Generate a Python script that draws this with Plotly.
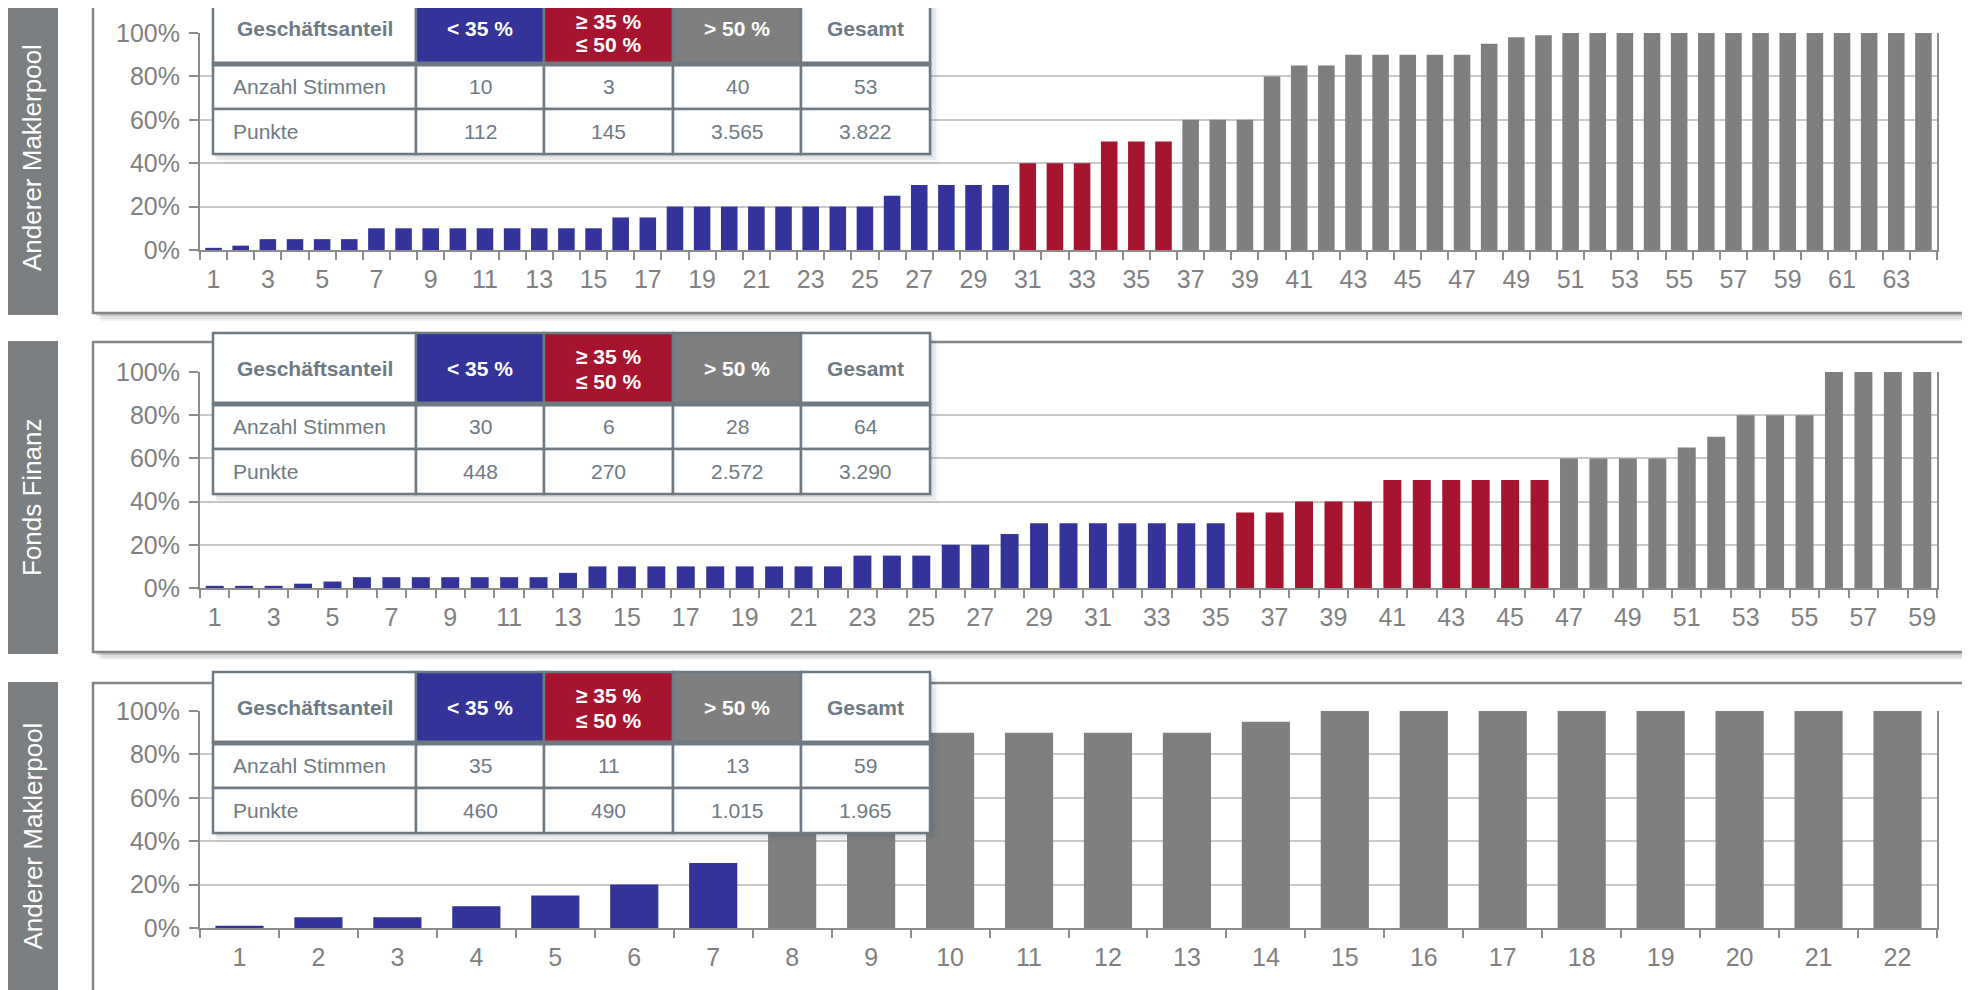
import plotly.graph_objects as go

# ── Data ───────────────────────────────────────────────────────────────────
PANEL_LABELS = ["Anderer Maklerpool", "Fonds Finanz", "Anderer Maklerpool"]

# Geschäftsanteil per vote, in %
SHARE_1 = [1, 2, 5, 5, 5, 5, 10, 10, 10, 10, 10, 10, 10, 10, 10, 15, 15,
           20, 20, 20, 20, 20, 20, 20, 20, 25, 30, 30, 30, 30, 40, 40, 40,
           50, 50, 50, 60, 60, 60, 80, 85, 85, 90, 90, 90, 90, 90, 95, 98,
           99, 100, 100, 100, 100, 100, 100, 100, 100, 100, 100, 100, 100,
           100, 100]
SHARE_2 = [1, 1, 1, 2, 3, 5, 5, 5, 5, 5, 5, 5, 7, 10, 10, 10, 10, 10, 10,
           10, 10, 10, 15, 15, 15, 20, 20, 25, 30, 30, 30, 30, 30, 30, 30,
           35, 35, 40, 40, 40, 50, 50, 50, 50, 50, 50, 60, 60, 60, 60, 65,
           70, 80, 80, 80, 100, 100, 100, 100]
SHARE_3 = [1, 5, 5, 10, 15, 20, 30, 60, 80, 90, 90, 90, 90, 95, 100, 100,
           100, 100, 100, 100, 100, 100]

Y_TICKS = [0, 20, 40, 60, 80, 100]
Y_TICKTEXT = ["0%", "20%", "40%", "60%", "80%", "100%"]

TABLE_HEAD = ["Geschäftsanteil", "&lt; 35 %", "≥ 35 %<br>≤ 50 %", "&gt; 50 %", "Gesamt"]
ROW_NAMES = ["Anzahl Stimmen", "Punkte"]
STIMMEN_1 = ["10", "3", "40", "53"]
PUNKTE_1 = ["112", "145", "3.565", "3.822"]
STIMMEN_2 = ["30", "6", "28", "64"]
PUNKTE_2 = ["448", "270", "2.572", "3.290"]
STIMMEN_3 = ["35", "11", "13", "59"]
PUNKTE_3 = ["460", "490", "1.015", "1.965"]

# ── Style ──────────────────────────────────────────────────────────────────
W, H = 1970, 990
OFF = 8          # page body margin
FONT = "Liberation Sans, Arial, sans-serif"
BLUE = "#333399"
RED = "#A6142F"
GRAY = "#7F7F7F"
SLATE = "#6E7A83"
TICK_COL = "#808080"
AXIS_COL = "#8C8C8C"
GRID_COL = "#C8C8C8"
HEAD_FILL = ["white", BLUE, RED, GRAY, "white"]
HEAD_FONT = [SLATE, "white", "white", "white", SLATE]

FRAME_TOP = [3, 342, 683]
FRAME_BOTTOM = [313, 652, 1010]
PLOT_TOP = [33, 372, 711]
PLOT_BOTTOM = [250, 588, 928]
TABLE_TOP = [-7, 333, 672]
PLOT_LEFT, PLOT_RIGHT = 200, 1937
COL_EDGES = [213, 416, 544, 673, 801, 930]
HEAD_H, ROW_H = 71, 45
LINE_GAP = 25    # line spacing of two-line header cell
TEXT_MIN_Y = OFF + 14   # keep header text inside the page


def px(x):
    return (x - OFF) / W


def py(y):
    return 1 - (y - OFF) / H


def bar_color(v):
    if v < 35:
        return BLUE
    return RED if v <= 50 else GRAY


panels = [
    (SHARE_1, STIMMEN_1, PUNKTE_1, 2),
    (SHARE_2, STIMMEN_2, PUNKTE_2, 2),
    (SHARE_3, STIMMEN_3, PUNKTE_3, 1),
]

fig = go.Figure()
shapes, annotations = [], []
layout_axes = {}

for i, (shares, stimmen, punkte, step) in enumerate(panels):
    n = len(shares)
    cats = list(range(1, n + 1))
    xa = "x" if i == 0 else f"x{i + 1}"
    ya = "y" if i == 0 else f"y{i + 1}"

    fig.add_trace(go.Bar(
        x=cats, y=shares, xaxis=xa, yaxis=ya,
        marker=dict(color=[bar_color(v) for v in shares], line=dict(width=0)),
        showlegend=False, hoverinfo="skip",
    ))

    layout_axes["xaxis" if i == 0 else f"xaxis{i + 1}"] = dict(
        domain=[px(PLOT_LEFT), px(PLOT_RIGHT)], anchor=ya, automargin=False,
        range=[0.5, n + 0.5], tickvals=cats[::step], ticks="",
        ticklabelstandoff=6,
        tickfont=dict(family=FONT, size=25, color=TICK_COL),
        showgrid=False, zeroline=False,
        showline=True, linecolor=AXIS_COL, linewidth=2,
        minor=dict(ticks="outside", ticklen=8, tickwidth=2, tickcolor=AXIS_COL,
                   tick0=0.5, dtick=1, showgrid=False),
    )
    layout_axes["yaxis" if i == 0 else f"yaxis{i + 1}"] = dict(
        domain=[py(PLOT_BOTTOM[i]), py(PLOT_TOP[i])], anchor=xa, automargin=False,
        range=[0, 100], tickvals=Y_TICKS, ticktext=Y_TICKTEXT,
        ticks="outside", ticklen=9, tickwidth=2, tickcolor=AXIS_COL,
        ticklabelstandoff=4,
        tickfont=dict(family=FONT, size=25, color=TICK_COL),
        showgrid=True, gridcolor=GRID_COL, gridwidth=2, zeroline=False,
        showline=True, linecolor=AXIS_COL, linewidth=2, mirror=True,
    )

    # frame + shadow
    for off, op in [(8, 0.05), (6, 0.08), (3, 0.12)]:
        shapes.append(dict(type="rect", xref="paper", yref="paper", layer="below",
                           x0=px(93 + off), x1=px(1967 + off),
                           y0=py(FRAME_BOTTOM[i] + off), y1=py(FRAME_TOP[i] + off),
                           line=dict(width=0), fillcolor=f"rgba(0,0,0,{op})"))
    shapes.append(dict(type="rect", xref="paper", yref="paper", layer="below",
                       x0=px(93), x1=px(1967), y0=py(FRAME_BOTTOM[i]), y1=py(FRAME_TOP[i]),
                       line=dict(color="#858585", width=2.5), fillcolor="white"))

    # side label box
    shapes.append(dict(type="rect", xref="paper", yref="paper", layer="below",
                       x0=px(6), x1=px(58), y0=py(FRAME_BOTTOM[i] + 2), y1=py(FRAME_TOP[i] - 1),
                       line=dict(width=0), fillcolor="#7B7F81"))
    mid = (FRAME_TOP[i] + min(FRAME_BOTTOM[i], H)) / 2
    annotations.append(dict(xref="paper", yref="paper", x=px(32), y=py(mid),
                            xanchor="center", yanchor="middle",
                            text=PANEL_LABELS[i], textangle=-90, showarrow=False,
                            font=dict(family=FONT, size=26, color="white")))

    # table overlay
    t0 = TABLE_TOP[i]
    row_edges = [t0, t0 + HEAD_H, t0 + HEAD_H + ROW_H, t0 + HEAD_H + 2 * ROW_H]
    for off, op in [(9, 0.04), (6, 0.07), (3, 0.10)]:
        shapes.append(dict(type="rect", xref="paper", yref="paper", layer="above",
                           x0=px(COL_EDGES[0] + off / 2), x1=px(COL_EDGES[-1] + off),
                           y0=py(row_edges[-1] + off), y1=py(row_edges[0] + off),
                           line=dict(width=0), fillcolor=f"rgba(60,70,80,{op})"))
    rows = [TABLE_HEAD, [ROW_NAMES[0]] + stimmen, [ROW_NAMES[1]] + punkte]
    for r, row in enumerate(rows):
        for c, txt in enumerate(row):
            x0, x1 = COL_EDGES[c], COL_EDGES[c + 1]
            y0, y1 = row_edges[r], row_edges[r + 1]
            shapes.append(dict(type="rect", xref="paper", yref="paper", layer="above",
                               x0=px(x0), x1=px(x1), y0=py(y1), y1=py(y0),
                               line=dict(color=SLATE, width=2.5),
                               fillcolor=HEAD_FILL[c] if r == 0 else "white"))
            left = (r > 0 and c == 0)
            lines = txt.split("<br>")
            ys = [(y0 + y1) / 2 + (k - (len(lines) - 1) / 2) * LINE_GAP
                  for k in range(len(lines))]
            push = max(0, TEXT_MIN_Y - ys[0])
            ys = [ys[0] + push] + [y + push / 2 for y in ys[1:]]
            for line, yc in zip(lines, ys):
                annotations.append(dict(
                    xref="paper", yref="paper",
                    x=px(x0 + 20) if left else px((x0 + x1) / 2), y=py(yc),
                    xanchor="left" if left else "center", yanchor="middle",
                    text=f"<b>{line}</b>" if r == 0 else line, showarrow=False,
                    borderpad=0, borderwidth=0,
                    font=dict(family=FONT, size=21,
                              color=HEAD_FONT[c] if r == 0 else SLATE)))
    shapes.append(dict(type="line", xref="paper", yref="paper", layer="above",
                       x0=px(COL_EDGES[0]), x1=px(COL_EDGES[-1]),
                       y0=py(row_edges[1]), y1=py(row_edges[1]),
                       line=dict(color=SLATE, width=5)))

fig.update_layout(
    width=W, height=H,
    margin=dict(l=0, r=0, t=0, b=0, autoexpand=False),
    paper_bgcolor="white", plot_bgcolor="rgba(0,0,0,0)",
    bargap=0.39,
    shapes=shapes, annotations=annotations,
    **layout_axes,
)

fig.write_html("out.html")
